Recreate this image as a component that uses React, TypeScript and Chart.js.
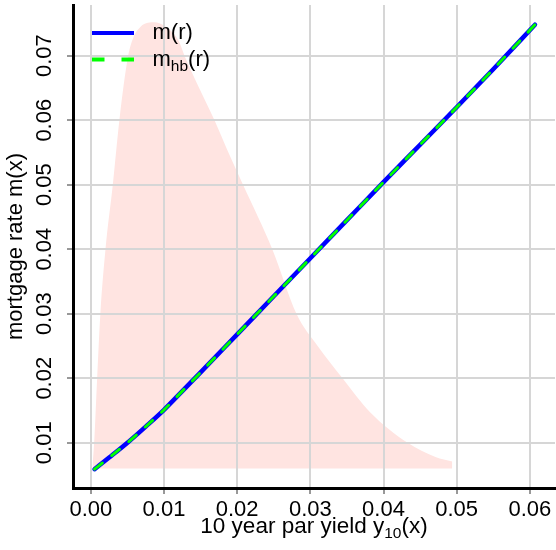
import React, { useEffect, useRef } from "react";
import { Chart, registerables } from "chart.js";

Chart.register(...registerables);

// ---- data ----
const rValues = [0.0005, 0.0025, 0.005, 0.0075, 0.01, 0.0125, 0.015, 0.02, 0.025, 0.03, 0.035, 0.04, 0.045, 0.05, 0.055, 0.0607];
const mValues = [0.0059, 0.0077, 0.0100, 0.0125, 0.0151, 0.0180, 0.0209, 0.0268, 0.0327, 0.0386, 0.0445, 0.0504, 0.0562, 0.0620, 0.0679, 0.0748];
const mhbValues = [0.0059, 0.0077, 0.0100, 0.0125, 0.0151, 0.0180, 0.0209, 0.0268, 0.0327, 0.0386, 0.0445, 0.0504, 0.0562, 0.0620, 0.0679, 0.0748];

// density of the 10 year yield, drawn in the y units of the plot, filled down to a base level
const densityX = [0.0002, 0.00045, 0.00086, 0.0013, 0.0020, 0.0030, 0.0039, 0.0051, 0.0058, 0.0068, 0.0078, 0.0087, 0.0100, 0.0110, 0.0120, 0.0128, 0.0148, 0.0169, 0.0188, 0.0208, 0.0248, 0.0281, 0.0310, 0.0344, 0.0382, 0.0433, 0.0471, 0.0494];
const densityY = [0.0060, 0.0100, 0.0200, 0.0300, 0.0400, 0.0500, 0.0600, 0.0700, 0.0728, 0.0745, 0.0751, 0.0752, 0.0747, 0.0738, 0.0723, 0.0700, 0.0650, 0.0600, 0.0550, 0.0500, 0.0400, 0.0300, 0.0250, 0.0200, 0.0147, 0.0100, 0.0078, 0.0071];
const densityBase = 0.006;

const xTickValues = [0, 0.01, 0.02, 0.03, 0.04, 0.05, 0.06];
const xTickLabels = ["0.00", "0.01", "0.02", "0.03", "0.04", "0.05", "0.06"];
const yTickValues = [0.01, 0.02, 0.03, 0.04, 0.05, 0.06, 0.07];
const yTickLabels = ["0.01", "0.02", "0.03", "0.04", "0.05", "0.06", "0.07"];

const xRange = [-0.00244, 0.06344];
const yRange = [0.00298, 0.07786];

const seriesNames = ["m", "hb", "(r)"];
const xTitleParts = ["10 year par yield y", "10", "(x)"];
const yTitle = "mortgage rate m(x)";

const FONT = '"Liberation Sans", Arial, Helvetica, sans-serif';
const FS = 22;
const TFS = 22.5;
const SUB = 15.5;
const GRID = "#D6D6D6";
const PINK = "#FFE4E1";
const BLUE = "#0000FF";
const GREEN = "#00FF00";

const overlayPlugin = {
  id: "overlay",
  afterDatasetDraw(chart: any, args: any) {
    if (args.index !== 0) return;
    const { ctx, chartArea: a, scales } = chart;
    ctx.save();
    ctx.strokeStyle = GRID;
    ctx.lineWidth = 2;
    for (const t of scales.x.ticks) {
      const px = Math.round(scales.x.getPixelForValue(t.value));
      ctx.beginPath();
      ctx.moveTo(px, a.top);
      ctx.lineTo(px, a.bottom - 2);
      ctx.stroke();
    }
    for (const t of scales.y.ticks) {
      const py = Math.round(scales.y.getPixelForValue(t.value));
      ctx.beginPath();
      ctx.moveTo(a.left + 2, py);
      ctx.lineTo(a.right, py);
      ctx.stroke();
    }
    ctx.restore();
  },
  afterDraw(chart: any) {
    const { ctx, chartArea: a } = chart;
    ctx.save();
    // legend
    const lx0 = a.left + 19;
    const lx1 = a.left + 61;
    const ly1 = a.top + 28;
    const ly2 = a.top + 54.5;
    ctx.lineCap = "butt";
    ctx.lineWidth = 4;
    ctx.strokeStyle = BLUE;
    ctx.beginPath();
    ctx.moveTo(lx0, ly1);
    ctx.lineTo(lx1, ly1);
    ctx.stroke();
    ctx.strokeStyle = GREEN;
    ctx.setLineDash([12.5, 17]);
    ctx.beginPath();
    ctx.moveTo(lx0, ly2);
    ctx.lineTo(lx1, ly2);
    ctx.stroke();
    ctx.setLineDash([]);

    ctx.fillStyle = "#000";
    ctx.textBaseline = "alphabetic";
    ctx.textAlign = "left";
    const tx = a.left + 79.5;
    ctx.font = `${FS}px ${FONT}`;
    ctx.fillText(seriesNames[0] + seriesNames[2], tx, ly1 + 6);
    ctx.fillText(seriesNames[0], tx, ly2 + 6);
    const mW = ctx.measureText(seriesNames[0]).width;
    ctx.font = `${SUB}px ${FONT}`;
    ctx.fillText(seriesNames[1], tx + mW, ly2 + 11);
    const hbW = ctx.measureText(seriesNames[1]).width;
    ctx.font = `${FS}px ${FONT}`;
    ctx.fillText(seriesNames[2], tx + mW + hbW, ly2 + 6);

    // x axis title with subscript
    ctx.font = `${TFS}px ${FONT}`;
    const w0 = ctx.measureText(xTitleParts[0]).width;
    const w2 = ctx.measureText(xTitleParts[2]).width;
    ctx.font = `${SUB}px ${FONT}`;
    const w1 = ctx.measureText(xTitleParts[1]).width;
    const total = w0 + w1 + w2;
    const cx = (a.left + a.right) / 2;
    const base = a.bottom + 45;
    let x = cx - total / 2;
    ctx.font = `${TFS}px ${FONT}`;
    ctx.fillText(xTitleParts[0], x, base);
    x += w0;
    ctx.font = `${SUB}px ${FONT}`;
    ctx.fillText(xTitleParts[1], x, base + 5);
    x += w1;
    ctx.font = `${TFS}px ${FONT}`;
    ctx.fillText(xTitleParts[2], x, base);
    ctx.restore();
  },
};

export default function App() {
  const ref = useRef<HTMLCanvasElement | null>(null);

  useEffect(() => {
    const canvas = ref.current;
    if (!canvas) return;
    const chart = new Chart(canvas, {
      type: "line",
      data: {
        datasets: [
          {
            label: "density",
            data: densityX.map((x, i) => ({ x, y: densityY[i] })),
            borderColor: "rgba(0,0,0,0)",
            borderWidth: 0,
            backgroundColor: PINK,
            fill: { value: densityBase },
            pointRadius: 0,
            cubicInterpolationMode: "monotone",
            order: 3,
          },
          {
            label: "m(r)",
            data: rValues.map((x, i) => ({ x, y: mValues[i] })),
            borderColor: BLUE,
            borderWidth: 4.5,
            borderCapStyle: "round",
            pointRadius: 0,
            fill: false,
            cubicInterpolationMode: "monotone",
            order: 2,
          },
          {
            label: "mhb(r)",
            data: rValues.map((x, i) => ({ x, y: mhbValues[i] })),
            borderColor: GREEN,
            borderWidth: 3,
            borderDash: [10, 12],
            borderCapStyle: "round",
            pointRadius: 0,
            fill: false,
            cubicInterpolationMode: "monotone",
            order: 1,
          },
        ],
      } as any,
      options: {
        animation: false,
        responsive: false,
        devicePixelRatio: 1,
        layout: { padding: { top: 5, right: 1, left: 0, bottom: 0 } },
        plugins: { legend: { display: false }, tooltip: { enabled: false } },
        scales: {
          x: {
            type: "linear",
            min: xRange[0],
            max: xRange[1],
            afterBuildTicks: (s: any) => {
              s.ticks = xTickValues.map((v) => ({ value: v }));
            },
            afterFit: (s: any) => {
              s.height = 62;
              s.paddingLeft = 0;
              s.paddingRight = 0;
            },
            ticks: {
              autoSkip: false,
              maxRotation: 0,
              padding: 3,
              color: "#000",
              font: { family: FONT, size: FS },
              callback: (_v: any, i: number) => xTickLabels[i],
            },
            grid: { color: GRID, lineWidth: 2, tickColor: "#333", tickLength: 6, tickWidth: 1 },
            border: { display: true, color: "#000", width: 3 },
          },
          y: {
            type: "linear",
            min: yRange[0],
            max: yRange[1],
            afterBuildTicks: (s: any) => {
              s.ticks = yTickValues.map((v) => ({ value: v }));
            },
            afterFit: (s: any) => {
              s.width = 73;
              s.paddingTop = 0;
              s.paddingBottom = 0;
            },
            ticks: {
              autoSkip: false,
              minRotation: 90,
              maxRotation: 90,
              crossAlign: "center",
              padding: 1,
              color: "#000",
              font: { family: FONT, size: FS },
              callback: (_v: any, i: number) => yTickLabels[i],
            },
            title: {
              display: true,
              text: yTitle,
              color: "#000",
              font: { family: FONT, size: FS },
              padding: { top: 3, bottom: 0 },
            },
            grid: { color: GRID, lineWidth: 2, tickColor: "#333", tickLength: 6, tickWidth: 1 },
            border: { display: true, color: "#000", width: 3 },
          },
        },
      } as any,
      plugins: [overlayPlugin],
    });
    return () => chart.destroy();
  }, []);

  return (
    <div style={{ position: "fixed", left: 0, top: 0, width: 556, height: 550, background: "#fff" }}>
      <canvas ref={ref} width={556} height={550} style={{ display: "block", width: 556, height: 550 }} />
    </div>
  );
}
